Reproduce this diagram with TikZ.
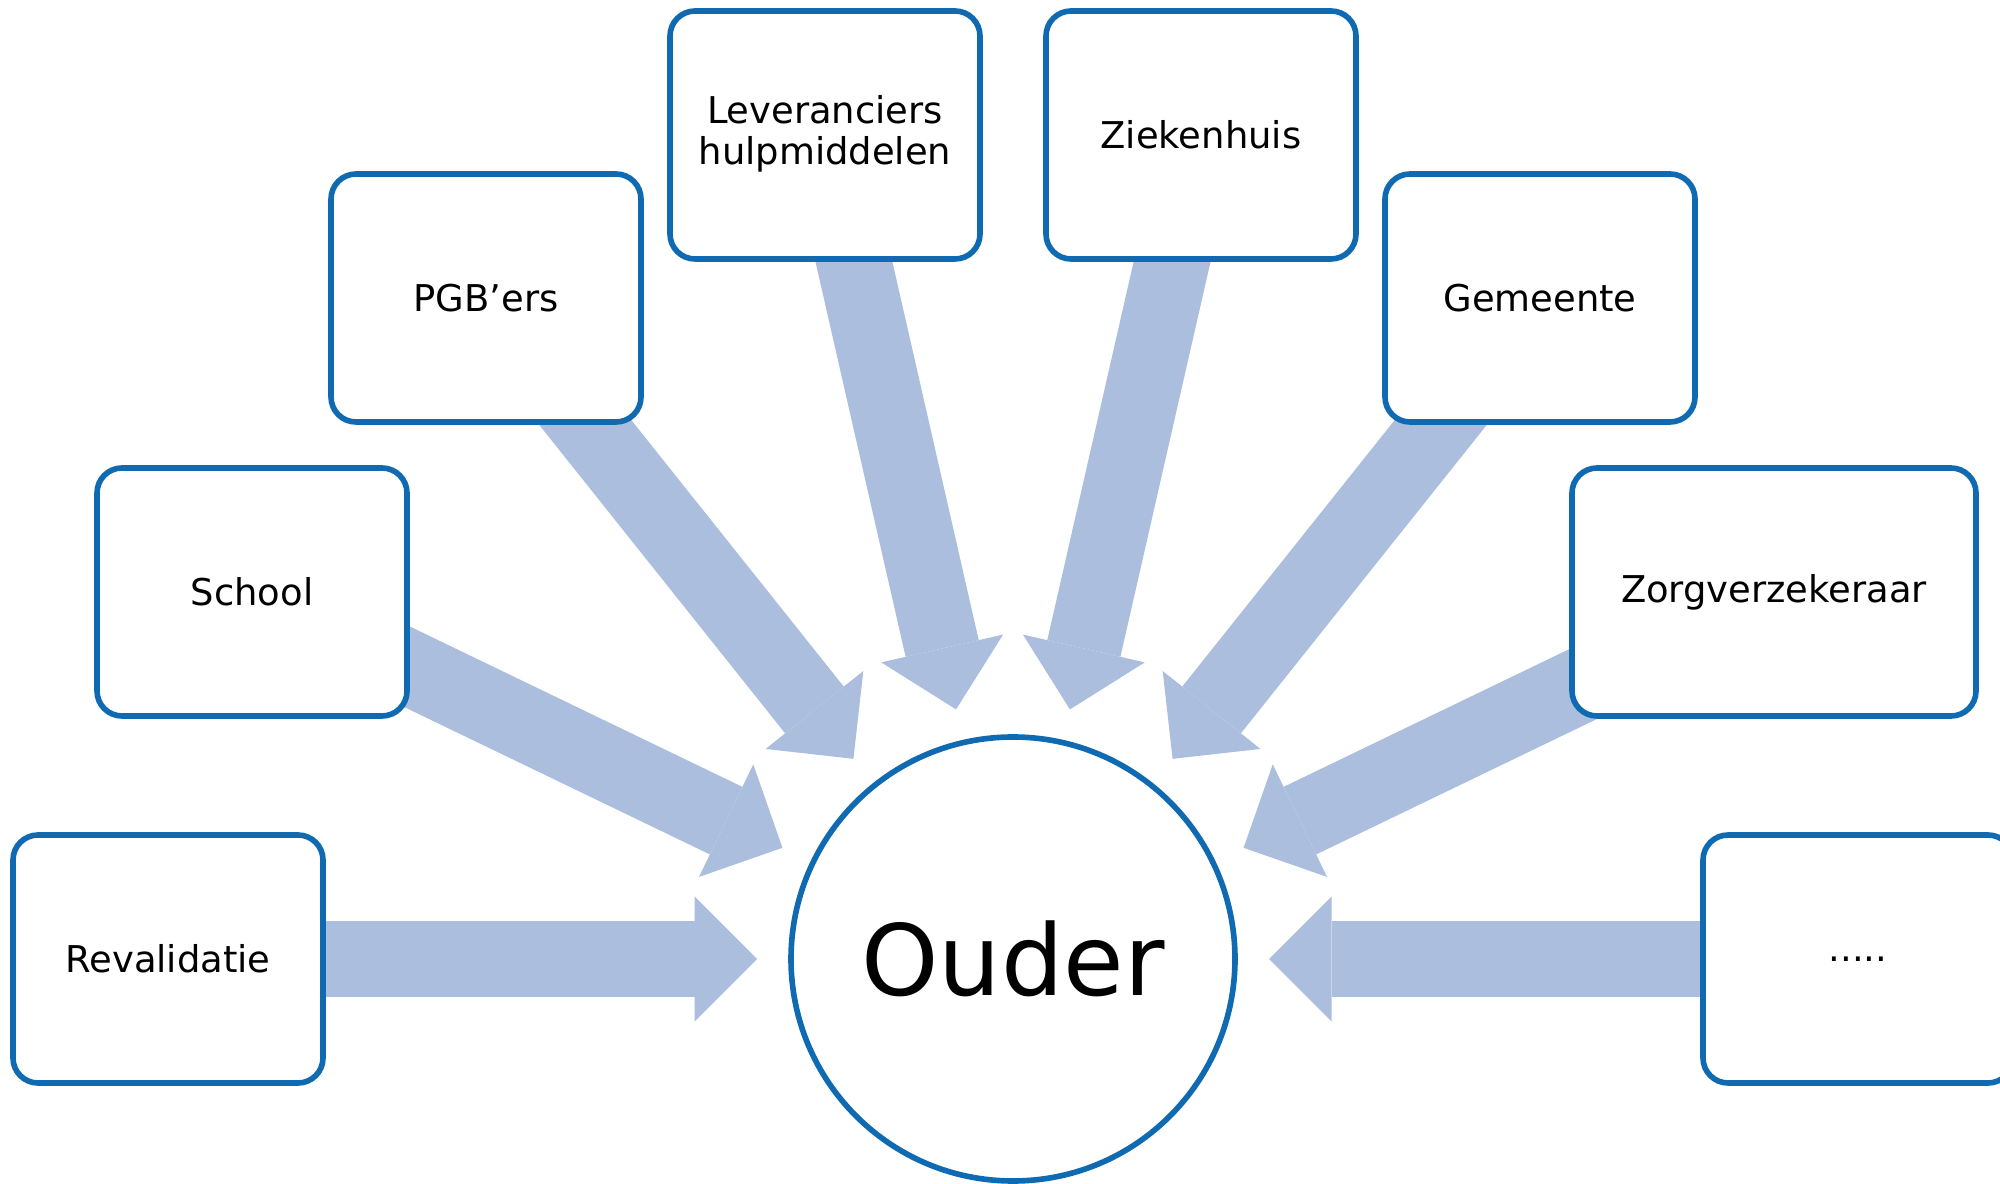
\documentclass[tikz,border=0pt]{standalone}
\usepackage{fontspec}
\setmainfont{DejaVu Sans}
\usepackage{xcolor}
\usepackage{tikz}
\usetikzlibrary{calc,arrows.meta,backgrounds}

\definecolor{boxblue}{RGB}{15,106,178}
\definecolor{flowblue}{RGB}{171,190,222}

\tikzset{
  partner/.style={draw=boxblue, line width=1.6pt, fill=white, rounded corners=0.25cm,
    minimum width=3.1cm, minimum height=2.48cm, align=center,
    font=\fontsize{10.5}{11.6}\selectfont},
  flow/.style={draw=flowblue, line width=0.75cm,
    -{Triangle[width=1.25cm, length=0.625cm, line width=0pt, fill=flowblue]}}
}

\begin{document}
\begin{tikzpicture}
\useasboundingbox (0,0) rectangle (20,11.83);

%Centre
\node[circle, draw=boxblue, line width=1.6pt, fill=white, minimum size=4.44cm,
  font=\fontsize{28}{30}\selectfont] (ouder) at (10.13,2.24) {Ouder};

%Partners
\node[partner] (reval) at (1.68,2.24) {Revalidatie};
\node[partner] (school) at (2.52,5.91) {School};
\node[partner] (pgb) at (4.86,8.85) {PGB’ers};
\node[partner, text depth=0.5ex] (lev) at (8.25,10.48) {Leveranciers\\hulpmiddelen};
\node[partner] (zieken) at (12.01,10.48) {Ziekenhuis};
\node[partner] (gemeente) at (15.40,8.85) {Gemeente};
\node[partner, minimum width=4.04cm] (zorg) at (17.74,5.91) {Zorgverzekeraar};
\node[partner] (more) at (18.58,2.24) {.....};

%Arrows to the centre
\begin{scope}[on background layer]
\draw[flow] (reval.center) -- ($(ouder.center)!2.56cm!(reval.center)$);
\draw[flow] (school.center) -- ($(ouder.center)!2.56cm!(school.center)$);
\draw[flow] (pgb.center) -- ($(ouder.center)!2.56cm!(pgb.center)$);
\draw[flow] (lev.center) -- ($(ouder.center)!2.56cm!(lev.center)$);
\draw[flow] (zieken.center) -- ($(ouder.center)!2.56cm!(zieken.center)$);
\draw[flow] (gemeente.center) -- ($(ouder.center)!2.56cm!(gemeente.center)$);
\draw[flow] (zorg.center) -- ($(ouder.center)!2.56cm!(zorg.center)$);
\draw[flow] (more.center) -- ($(ouder.center)!2.56cm!(more.center)$);
\end{scope}

\end{tikzpicture}
\end{document}
